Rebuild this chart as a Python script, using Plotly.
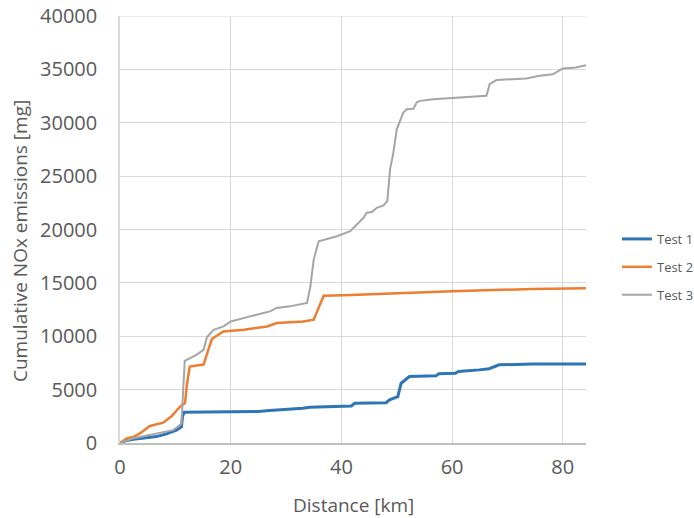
import plotly.graph_objects as go

# Test 1
t1_km = [0, 1, 2.4, 4, 6.6, 8.4, 10.2, 11.1, 11.3, 11.6, 15, 20, 25, 27, 31, 33, 34.3,
         41.8, 42.4, 48.1, 48.7, 50.2, 50.8, 52.3, 57.1, 57.6, 60.6, 61.2, 64.9, 66.7,
         68.5, 74.5, 84.2]
t1_mg = [0, 200, 350, 450, 600, 850, 1200, 1500, 2500, 2880, 2880, 2900, 2950, 3050,
         3150, 3260, 3350, 3470, 3720, 3780, 4040, 4350, 5600, 6230, 6290, 6480, 6540,
         6700, 6850, 6960, 7320, 7390, 7390]

# Test 2
t2_km = [0, 1.2, 2.5, 3.6, 5.4, 6.5, 7.8, 9.3, 10.85, 11.75, 12.1, 12.6, 13.5, 15.1,
         16, 16.6, 17.2, 18.7, 22.4, 26.6, 28.3, 33.1, 35, 35.9, 36.8, 40.4, 50.6, 60,
         74.5, 84.2]
t2_mg = [0, 440, 600, 900, 1600, 1750, 1900, 2500, 3400, 3750, 5500, 7160, 7250, 7350,
         8800, 9740, 9950, 10450, 10610, 10920, 11240, 11390, 11550, 12650, 13800, 13850,
         14060, 14210, 14430, 14490]

# Test 3
t3_km = [0, 2.4, 4, 6.6, 9.6, 11.1, 11.3, 11.7, 13.8, 15.1, 15.7, 16.9, 18.7, 20, 23.5,
         27.1, 28.3, 30.7, 33.8, 34.4, 35, 35.9, 39.2, 41.6, 44, 44.6, 45.5, 46.4, 47.6,
         48.3, 48.8, 49.4, 50, 51.2, 51.8, 53, 53.6, 54.2, 56.6, 66.2, 66.8, 68, 73.4,
         75.8, 78.2, 80, 82.4, 84.2]
t3_mg = [0, 440, 600, 900, 1200, 1800, 4000, 7700, 8260, 8730, 9900, 10600, 10920,
         11390, 11860, 12330, 12650, 12800, 13120, 14680, 17180, 18900, 19370, 19840,
         21100, 21570, 21630, 22030, 22250, 22660, 25630, 27200, 29390, 30960, 31270,
         31300, 31900, 32050, 32210, 32520, 33620, 34000, 34150, 34400, 34540, 35090,
         35180, 35400]

x_ticks = [0, 20, 40, 60, 80]
y_ticks = [0, 5000, 10000, 15000, 20000, 25000, 30000, 35000, 40000]

FONT = "Open Sans"
TXT = "#595959"
GRID = "#D9D9D9"

fig = go.Figure()
fig.add_trace(go.Scatter(x=t1_km, y=t1_mg, mode="lines", name="Test 1", legendgroup="a",
                         line=dict(color="#2E75B6", width=3)))
fig.add_trace(go.Scatter(x=t2_km, y=t2_mg, mode="lines", name="Test 2", legendgroup="b",
                         line=dict(color="#ED7D31", width=2.5)))
fig.add_trace(go.Scatter(x=t3_km, y=t3_mg, mode="lines", name="Test 3", legendgroup="c",
                         line=dict(color="#A5A5A5", width=2)))

fig.update_layout(
    width=694, height=518,
    margin=dict(l=120, r=108, t=16, b=75, autoexpand=False),
    paper_bgcolor="white", plot_bgcolor="white",
    font=dict(family=FONT, color=TXT),
    showlegend=True,
    legend=dict(xref="container", yref="container", x=0.889, y=0.4846,
                xanchor="left", yanchor="middle", font=dict(size=13, color=TXT),
                itemwidth=30, tracegroupgap=8, bgcolor="rgba(0,0,0,0)"),
    xaxis=dict(range=[0, 84.2], tickvals=x_ticks, showgrid=True, gridcolor=GRID,
               gridwidth=1, showline=True, linecolor="#BFBFBF", linewidth=1.5,
               zeroline=False, ticks="", tickfont=dict(size=20, color=TXT),
               ticklabelstandoff=5, automargin=False),
    yaxis=dict(range=[0, 40000], tickvals=y_ticks, tickformat="d", showgrid=True,
               gridcolor=GRID, gridwidth=1, showline=True, linecolor=GRID,
               linewidth=1.5, zeroline=False, ticks="", tickfont=dict(size=20, color=TXT),
               ticklabelstandoff=17, automargin=False),
    shapes=[dict(type="line", xref="paper", yref="y", x0=0, x1=1, y0=y_ticks[-1],
                 y1=y_ticks[-1], line=dict(color=GRID, width=1), layer="below")],
    annotations=[
        dict(text="Distance [km]", xref="paper", yref="paper", x=0.5, y=-0.145,
             showarrow=False, font=dict(size=19, color=TXT), xanchor="center", yanchor="middle"),
        dict(text="Cumulative NOx emissions [mg]", xref="paper", yref="paper", x=-0.2146,
             y=0.473, showarrow=False, textangle=-90, font=dict(size=19, color=TXT),
             xanchor="center", yanchor="middle"),
    ],
)

fig.write_html("out.html", config={"displayModeBar": False},
               post_script="document.body.style.margin='0';")
